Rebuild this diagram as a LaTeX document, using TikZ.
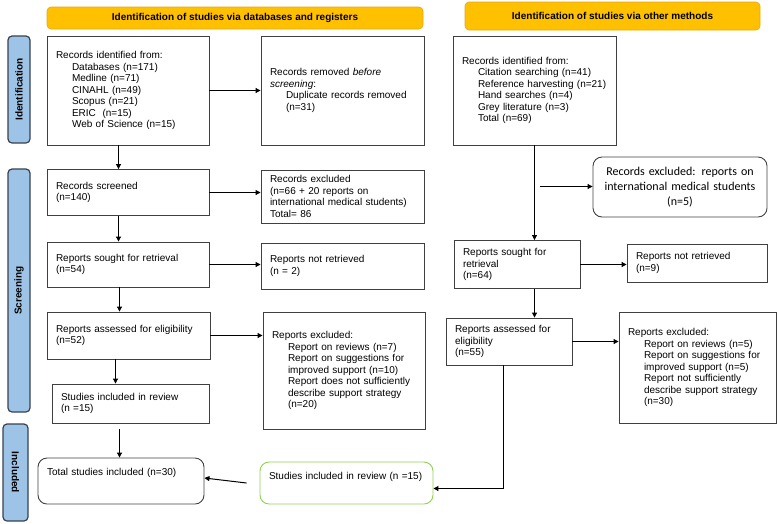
\documentclass[tikz,border=0pt]{standalone}
\usepackage{fontspec}
\setmainfont{Liberation Sans}
\newfontfamily\calibrifont{Carlito}
\usetikzlibrary{arrows.meta,calc}

\definecolor{hdrgold}{RGB}{255,192,0}
\definecolor{hdredge}{RGB}{228,170,20}
\definecolor{sideblue}{RGB}{157,195,230}
\definecolor{sideedge}{RGB}{55,65,80}
\definecolor{boxedge}{RGB}{64,64,64}
\definecolor{incgreen}{RGB}{146,208,80}

\newcommand{\subind}{\hspace*{16pt}}

\begin{document}
\begin{tikzpicture}[x=1pt,y=-1pt,
    font=\fontsize{10}{11.5}\selectfont,
    hdr/.style={draw=hdredge,fill=hdrgold,rounded corners=4pt,line width=0.6pt,
        font=\fontsize{10}{12}\selectfont\bfseries},
    side/.style={draw=sideedge,fill=sideblue,rounded corners=4pt,line width=1.2pt,
        inner sep=0pt,font=\fontsize{10}{12}\selectfont\bfseries},
    box/.style={draw=boxedge,line width=0.9pt,align=left,inner xsep=9pt,inner ysep=3pt},
    rbox/.style={box,rounded corners=9pt},
    arr/.style={-{Triangle[length=5pt,width=5pt]},line width=1pt}
]

\useasboundingbox (0,0) rectangle (778,523);

% Phase labels
\node[side,rotate=90,minimum width=107pt,minimum height=22pt] (idside) at (19,89.5) {Identification};
\node[side,rotate=90,minimum width=243pt,minimum height=22pt] (scrside) at (19,290.5) {Screening};
\node[side,rotate=-90,minimum width=97pt,minimum height=25pt] (incside) at (15.5,472.5) {Included};

% Headers
\node[hdr,minimum width=376pt,minimum height=22pt] (hdrdb) at (235,18) {Identification of studies via databases and registers};
\node[hdr,minimum width=295pt,minimum height=28pt] (hdroth) at (612.5,16) {Identification of studies via other methods};

% Databases and registers
\node[box,text width=144pt,minimum height=109pt] (recid) at (128,90.5) {Records identified from:\\
    \subind Databases (n=171)\\ \subind Medline (n=71)\\ \subind CINAHL (n=49)\\
    \subind Scopus (n=21)\\ \subind ERIC~~(n=15)\\ \subind Web of Science (n=15)};
\node[box,text width=145pt,minimum height=109pt] (recrem) at (342.5,90.5) {Records removed \emph{before}\\
    \emph{screening}:\\ \subind Duplicate records removed\\ \subind (n=31)};
\node[box,text width=144pt,minimum height=46pt] (recscr) at (128,192.5) {Records screened\\(n=140)};
\node[box,text width=145pt,minimum height=53pt] (recexc) at (342.5,196.5) {Records excluded\\
    (n=66 + 20 reports on\\ international medical students)\\ Total= 86};
\node[box,text width=144pt,minimum height=45pt] (repsought) at (128,264.5) {Reports sought for retrieval\\(n=54)};
\node[box,text width=145pt,minimum height=46pt] (repnot) at (342.5,266) {Reports not retrieved\\(n = 2)};
\node[box,text width=145pt,minimum height=47pt] (repass) at (128.5,335.5) {Reports assessed for eligibility\\(n=52)};
\node[box,text width=144pt,minimum height=117pt] (repexc) at (344,370.5) {Reports excluded:\\
    \subind Report on reviews (n=7)\\ \subind Report on suggestions for\\ \subind improved support (n=10)\\
    \subind Report does not sufficiently\\ \subind describe support strategy\\ \subind (n=20)};
\node[box,text width=139pt,minimum height=39pt] (studinc) at (130.5,403.5) {Studies included in review\\(n =15)};
\node[rbox,text width=148pt,minimum height=46pt] (total) at (121,481) {Total studies included (n=30)\\[6pt]~};

% Other methods
\node[box,text width=145pt,minimum height=109pt] (othid) at (534.5,90.5) {Records identified from:\\
    \subind Citation searching (n=41)\\ \subind Reference harvesting (n=21)\\ \subind Hand searches (n=4)\\
    \subind Grey literature (n=3)\\ \subind Total (n=69)};
\node[rbox,align=center,text width=156pt,minimum height=60pt,font=\calibrifont\fontsize{12}{15}\selectfont]
    (othexc) at (680,187) {Records excluded: reports on\\ international medical students\\ (n=5)};
\node[box,text width=108pt,minimum height=48pt] (othsought) at (517,264.5) {Reports sought for\\retrieval\\(n=64)};
\node[box,text width=122pt,minimum height=38pt] (othnot) at (697,263) {Reports not retrieved\\(n=9)};
\node[box,text width=108pt,minimum height=47pt] (othass) at (509,341.5) {Reports assessed for\\eligibility\\(n=55)};
\node[box,text width=139pt,minimum height=111pt] (othrepexc) at (697.5,367.5) {Reports excluded:\\
    \subind Report on reviews (n=5)\\ \subind Report on suggestions for\\ \subind improved support (n=5)\\
    \subind Report not sufficiently\\ \subind describe support strategy\\ \subind (n=30)};
\node[rbox,draw=incgreen,text width=155pt,minimum height=42pt] (othinc) at (346.5,483) {Studies included in review (n =15)\\[3pt]~};

% Arrows, databases column
\draw[arr] (recid.east) -- (recid.east -| recrem.west);
\draw[arr] ([xshift=-9.5pt]recid.south) -- ([xshift=-9.5pt]recid.south |- recscr.north);
\draw[arr] (recscr.east) -- (recscr.east -| recexc.west);
\draw[arr] ([xshift=-9.5pt]recscr.south) -- ([xshift=-9.5pt]recscr.south |- repsought.north);
\draw[arr] (repsought.east) -- (repsought.east -| repnot.west);
\draw[arr] ([xshift=-8.5pt]repsought.south) -- ([xshift=-8.5pt]repsought.south |- repass.north);
\draw[arr] (repass.east) -- (repass.east -| repexc.west);
\draw[arr] ([xshift=-13pt]repass.south) -- ([xshift=-13pt]repass.south |- studinc.north);
\draw[arr,shorten <=6pt] ([xshift=-11pt]studinc.south) -- ([xshift=-11pt]studinc.south |- total.north);

% Arrows, other methods column
\coordinate (excsrc) at (540,186.5);
\draw[arr] (othid.south) -- (othid.south |- othsought.north);
\draw[arr] (excsrc) -- (excsrc -| othexc.west);
\draw[arr] (othsought.east) -- (othsought.east -| othnot.west);
\draw[arr] ([xshift=17.5pt]othsought.south) -- ([xshift=17.5pt]othsought.south |- othass.north);
\draw[arr] (othass.east) -- (othass.east -| othrepexc.west);
\draw[arr] ([xshift=-5.5pt]othass.south) |- ([yshift=-5.5pt]othinc.east);
\draw[arr] ([xshift=-13pt]othinc.west) -- ([yshift=3pt]total.east);

\end{tikzpicture}
\end{document}
